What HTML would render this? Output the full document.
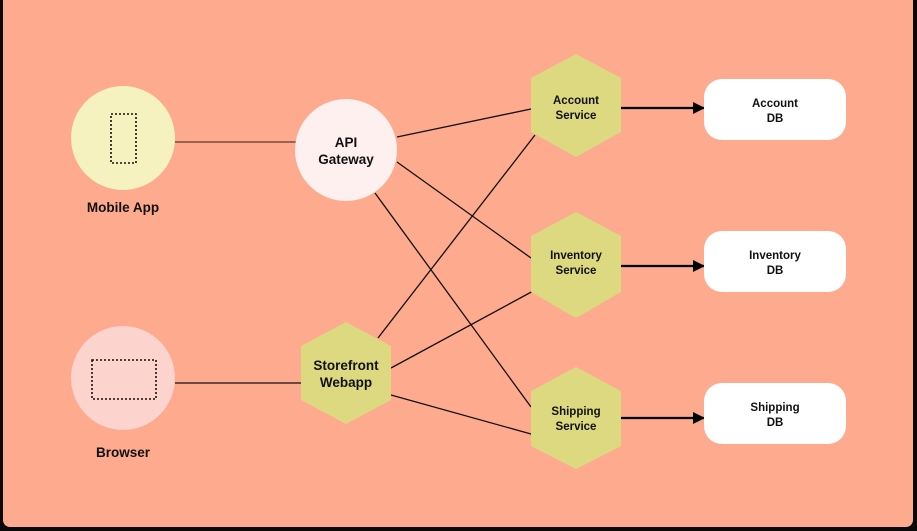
<!DOCTYPE html>
<html><head><meta charset="utf-8"><style>
html,body{margin:0;padding:0;background:#000;}
svg{display:block}
text{font-family:"Liberation Sans",sans-serif;font-weight:bold;fill:#111;text-anchor:middle}
</style></head><body>
<svg width="917" height="531" viewBox="0 0 917 531" xmlns="http://www.w3.org/2000/svg">
<rect x="0" y="0" width="917" height="531" fill="#0a0a0a"/>
<rect x="3" y="-10" width="910" height="537" rx="7" fill="#FEAA8E"/>
<defs><marker id="ar" markerWidth="12" markerHeight="12" refX="11" refY="6" orient="auto" markerUnits="userSpaceOnUse"><path d="M0,0 L12,6 L0,12 z" fill="#000"/></marker></defs>
<g stroke="#111" stroke-width="1.3" fill="none">
<line x1="175" y1="142" x2="296" y2="142" stroke="#7a4a3a" stroke-width="1.6"/>
<line x1="175" y1="383" x2="301" y2="383"/>
<line x1="397" y1="137" x2="531" y2="109"/>
<line x1="397" y1="162" x2="531" y2="258"/>
<line x1="375" y1="193" x2="531" y2="407"/>
<line x1="378" y1="338" x2="535" y2="135"/>
<line x1="391" y1="368" x2="535" y2="290"/>
<line x1="391" y1="395" x2="531" y2="434"/>
</g>
<g stroke="#000" stroke-width="2.2">
<line x1="621" y1="108" x2="704" y2="108" marker-end="url(#ar)"/>
<line x1="621" y1="266" x2="704" y2="266" marker-end="url(#ar)"/>
<line x1="621" y1="418" x2="704" y2="418" marker-end="url(#ar)"/>
</g>
<circle cx="123" cy="138" r="52" fill="#F5F2C0"/>
<rect x="111" y="114" width="25" height="49" fill="none" stroke="#111" stroke-width="1.6" stroke-dasharray="2,2"/>
<text x="123" y="212" font-size="13.5">Mobile App</text>
<circle cx="123" cy="378" r="52" fill="#FDD3CE"/>
<rect x="92" y="360" width="64" height="39" fill="none" stroke="#111" stroke-width="1.6" stroke-dasharray="2,2"/>
<text x="123" y="457" font-size="13.5">Browser</text>
<circle cx="346" cy="150" r="51" fill="#FDF0EE"/>
<text x="346" y="147" font-size="13.5">API</text>
<text x="346" y="164" font-size="13.5">Gateway</text>
<g fill="#DDD980">
<polygon points="346,322 391,346 391,400 346,424 301,400 301,346"/>
<polygon points="576,54 621,78 621,132 576,157 531,132 531,78"/>
<polygon points="576,212 621,236 621,292 576,318 531,292 531,236"/>
<polygon points="576,367 621,391 621,446 576,469 531,446 531,391"/>
</g>
<text x="346" y="370" font-size="13.5">Storefront</text>
<text x="346" y="387" font-size="13.5">Webapp</text>
<text x="576" y="104" font-size="11.5">Account</text>
<text x="576" y="119" font-size="11.5">Service</text>
<text x="576" y="259" font-size="11.5">Inventory</text>
<text x="576" y="274" font-size="11.5">Service</text>
<text x="576" y="415" font-size="11.5">Shipping</text>
<text x="576" y="430" font-size="11.5">Service</text>
<g fill="#fff">
<rect x="704" y="79" width="142" height="61" rx="18"/>
<rect x="704" y="231" width="142" height="61" rx="18"/>
<rect x="704" y="383" width="142" height="61" rx="18"/>
</g>
<text x="775" y="107" font-size="11.5">Account</text>
<text x="775" y="122" font-size="11.5">DB</text>
<text x="775" y="259" font-size="11.5">Inventory</text>
<text x="775" y="274" font-size="11.5">DB</text>
<text x="775" y="411" font-size="11.5">Shipping</text>
<text x="775" y="426" font-size="11.5">DB</text>
</svg>
</body></html>
